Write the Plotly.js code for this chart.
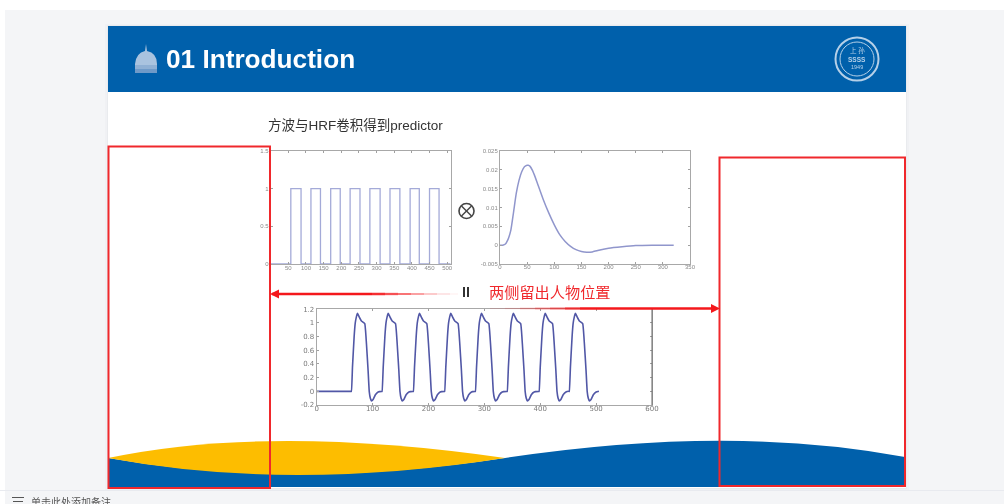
<!DOCTYPE html>
<html><head><meta charset="utf-8">
<script src="https://cdn.plot.ly/plotly-3.0.1.min.js"></script>
<style>html,body{margin:0;padding:0;background:#fff;overflow:hidden}#c{width:1004px;height:504px;filter:blur(0.55px)}</style>
</head><body><div id="c"></div>
<script>
// Square wave stimulus
const squareX = [0,57,57,86,86,114,114,141,141,170,170,197,197,225,225,253,253,281,281,310,310,338,338,366,366,395,395,421,421,450,450,477,477,510];
const squareY = [0,0,1,1,0,0,1,1,0,0,1,1,0,0,1,1,0,0,1,1,0,0,1,1,0,0,1,1,0,0,1,1,0,0];
const squareTickX = [50,100,150,200,250,300,350,400,450,500];
const squareTickY = [0,0.5,1,1.5];
const squareTickYText = ['0','0.5','1','1.5'];
// HRF
const hrfX = [0,5,10,13,16,20,25,30,35,40,45,50,52,55,60,65,70,80,90,100,110,120,130,140,150,160,170,180,200,225,250,280,320];
const hrfY = [0,0,0.0003,0.001,0.002,0.004,0.0088,0.0138,0.0172,0.0195,0.0208,0.0212,0.0212,0.021,0.0198,0.018,0.016,0.012,0.0085,0.0054,0.0028,0.001,-0.0003,-0.0012,-0.0017,-0.0019,-0.0018,-0.0014,-0.0008,-0.0004,-0.0001,0,0];
const hrfTickX = [0,50,100,150,200,250,300,350];
const hrfTickY = [-0.005,0,0.005,0.01,0.015,0.02,0.025];
const hrfTickYText = ['-0.005','0','0.005','0.01','0.015','0.02','0.025'];
// Predictor
const predictorX = [0,20,40,55,60,62,64,67,69,71,73,76,80,86,89,92,94,96,98,101,105,110,116,
 117,119,122,124,126,128,131,135,141,144,147,149,151,153,156,160,165,172,
 173,175,178,180,182,184,187,191,197,200,203,205,207,209,212,216,221,228,
 229,231,234,236,238,240,243,247,253,256,259,261,263,265,268,272,277,283,
 284,286,289,291,293,295,298,302,308,311,314,316,318,320,323,327,332,340,
 341,343,346,348,350,352,355,359,365,368,371,373,375,377,380,384,389,397,
 398,400,403,405,407,409,412,416,422,425,428,430,432,434,437,441,446,451,
 452,454,457,459,461,463,466,470,476,479,482,484,486,488,491,495,500,505];
const predictorY = [0,0,0,0,0,0,0.35,0.8,1,1.09,1.14,1.09,1.03,0.99,0.7,0.3,0,-0.1,-0.14,-0.12,-0.05,-0.01,0,
 0,0.35,0.8,1,1.09,1.14,1.09,1.03,0.99,0.7,0.3,0,-0.1,-0.14,-0.12,-0.05,-0.01,0,
 0,0.35,0.8,1,1.09,1.14,1.09,1.03,0.99,0.7,0.3,0,-0.1,-0.14,-0.12,-0.05,-0.01,0,
 0,0.35,0.8,1,1.09,1.14,1.09,1.03,0.99,0.7,0.3,0,-0.1,-0.14,-0.12,-0.05,-0.01,0,
 0,0.35,0.8,1,1.09,1.14,1.09,1.03,0.99,0.7,0.3,0,-0.1,-0.14,-0.12,-0.05,-0.01,0,
 0,0.35,0.8,1,1.09,1.14,1.09,1.03,0.99,0.7,0.3,0,-0.1,-0.14,-0.12,-0.05,-0.01,0,
 0,0.35,0.8,1,1.09,1.14,1.09,1.03,0.99,0.7,0.3,0,-0.1,-0.14,-0.12,-0.05,-0.01,0,
 0,0.35,0.8,1,1.09,1.14,1.09,1.03,0.99,0.7,0.3,0,-0.1,-0.14,-0.12,-0.05,-0.01,0];
const predictorTickX = [0,100,200,300,400,500,600];
const predictorTickY = [-0.2,0,0.2,0.4,0.6,0.8,1,1.2];
const predictorTickYText = ['-0.2','0','0.2','0.4','0.6','0.8','1','1.2'];
// Texts
const headerTitle = '01 Introduction';
const slideTitle = '方波与HRF卷积得到predictor';
const redNote = '两侧留出人物位置';
const footerNote = '单击此处添加备注';

const W=1004,H=504;
const X=p=>p/W, Y=p=>1-p/H;
const pathCurve=(pts)=>{let out='';pts.forEach(s=>{
  if(s[0]==='M'||s[0]==='L') out+=s[0]+' '+X(s[1])+','+Y(s[2])+' ';
  else if(s[0]==='Q') out+='Q '+X(s[1])+','+Y(s[2])+' '+X(s[3])+','+Y(s[4])+' ';
  else out+='Z';});return out;};
const rect=(x0,y0,x1,y1,fill,extra)=>Object.assign({type:'rect',xref:'paper',yref:'paper',x0:X(x0),x1:X(x1),y0:Y(y1),y1:Y(y0),fillcolor:fill,line:{width:0},layer:'below'},extra||{});
const line=(x0,y0,x1,y1,color,w,op)=>({type:'line',xref:'paper',yref:'paper',x0:X(x0),x1:X(x1),y0:Y(y0),y1:Y(y1),line:{color:color,width:w},opacity:op==null?1:op,layer:'above'});
const path=(d,fill,extra)=>Object.assign({type:'path',xref:'paper',yref:'paper',path:d,fillcolor:fill,line:{width:0},layer:'below'},extra||{});
const circ=(cx,cy,r,fill,lc,lw,layer)=>({type:'circle',xref:'paper',yref:'paper',x0:X(cx-r),x1:X(cx+r),y0:Y(cy+r),y1:Y(cy-r),fillcolor:fill,line:{color:lc,width:lw},layer:layer||'above'});

const RED='#f0282c', BLUE='#0060ab', YEL='#fdbd00', LOGO='#b5d0e8', AR='#f4181c';
// fading arrow shafts: [x0, x1, width, opacity]
const leftShaft=[[272,372,2.6,1],[372,385,2.5,0.9],[385,398,2.3,0.75],[398,411,2,0.6],[411,424,1.8,0.45],[424,437,1.5,0.3],[437,450,1.2,0.18],[450,458,1,0.08]];
const rightShaft=[[490,505,1,0.1],[505,520,1.2,0.2],[520,535,1.5,0.35],[535,550,1.8,0.5],[550,565,2,0.65],[565,580,2.3,0.85],[580,712,2.6,1]];
const shapes=[
 rect(5,10,1004,504,'#f4f5f7'),
 rect(0,490,1004,491,'#e8eaef'),
 rect(105,24,909,490,'#f0f1f4'),
 rect(107,25,907,489,'#e9ebee'),
 rect(108,26,906,488,'#ffffff'),
 rect(108,26,906,92,BLUE),
 path(pathCurve([['M',108,487],['L',108,458],['Q',290,490,505,458],['Q',730,424,905,457],['L',905,487],['Z']]),BLUE),
 path(pathCurve([['M',108,458],['Q',270,424,505,458],['Q',290,492,108,458],['Z']]),YEL),
 // dome
 path(pathCurve([['M',135,73],['L',135,64],['Q',136,53,145,51],['L',146,44],['L',147,51],['Q',157,53,157,64],['L',157,73],['Z']]),'#a9c3df',{layer:'above'}),
 rect(135,65,157,69,'#8fb0d4',{layer:'above'}),
 rect(135,69,157,73,'#6f9ac8',{layer:'above'}),
 // logo
 circ(857,59,21.5,'rgba(0,0,0,0)',LOGO,2),
 circ(857,59,17,'rgba(0,0,0,0)',LOGO,1),
 // predictor frame right edge
 line(652,309,652,405,'#666',1),
 // red boxes
 {type:'rect',xref:'paper',yref:'paper',x0:X(108.5),x1:X(270),y0:Y(488),y1:Y(146.5),line:{color:RED,width:2},fillcolor:'rgba(0,0,0,0)',layer:'above'},
 {type:'rect',xref:'paper',yref:'paper',x0:X(719.5),x1:X(905),y0:Y(486),y1:Y(157.5),line:{color:RED,width:2},fillcolor:'rgba(0,0,0,0)',layer:'above'},
 // arrows
 ...leftShaft.map(s=>line(s[0],294,s[1],294,AR,s[2],s[3])),
 path(pathCurve([['M',270,294],['L',279,289.5],['L',279,298.5],['Z']]),AR,{layer:'above'}),
 ...rightShaft.map(s=>line(s[0],308.5,s[1],308.5,AR,s[2],s[3])),
 path(pathCurve([['M',720,308.5],['L',711,304],['L',711,313],['Z']]),AR,{layer:'above'}),
 // equals rotated
 rect(463,287,465,297,'#333',{layer:'above'}),
 rect(467,287,469,297,'#333',{layer:'above'}),
 // otimes
 circ(466.5,211,7.5,'rgba(0,0,0,0)','#444',1.6),
 line(461.5,206,471.5,216,'#444',1.4),
 line(471.5,206,461.5,216,'#444',1.4),
 // footer menu icon
 rect(12,497,24,498,'#555'),
 rect(13,501,23,502,'#555')
];
const FONT='Liberation Sans, Noto Sans CJK SC, sans-serif';
const ann=(x,y,text,size,color,extra)=>Object.assign({xref:'paper',yref:'paper',x:X(x),y:Y(y),text:text,showarrow:false,xanchor:'left',yanchor:'middle',font:{size:size,color:color,family:FONT}},extra||{});
const annotations=[
 ann(164,59,'<b>'+headerTitle+'</b>',26.2,'#ffffff'),
 ann(266,125,slideTitle,13.5,'#333'),
 ann(487,292.5,redNote,15.2,'#f0282c'),
 ann(29,502,footerNote,10,'#555'),
 ann(857,50,'上 孙',6.5,LOGO,{xanchor:'center'}),
 ann(857,59,'<b>SSSS</b>',6.5,LOGO,{xanchor:'center'}),
 ann(857,67,'1949',5.5,LOGO,{xanchor:'center'})
];
const axisBase={showgrid:false,zeroline:false,showline:true,linecolor:'#a8a8a8',linewidth:1,mirror:'ticks',ticks:'inside',ticklen:2,tickcolor:'#a0a0a0',tickfont:{size:6,color:'#8a8a8a',family:'Liberation Sans, sans-serif'},fixedrange:true};
const tf3={size:7,color:'#7a7a7a',family:'DejaVu Sans, sans-serif'};
const dx=(a,b)=>[a/W,b/W], dy=(top,bot)=>[1-bot/H,1-top/H];
const layout={
 width:W,height:H,margin:{l:0,r:0,t:0,b:0},paper_bgcolor:'rgba(0,0,0,0)',plot_bgcolor:'rgba(0,0,0,0)',showlegend:false,
 xaxis:Object.assign({},axisBase,{domain:dx(270.7,450.7),range:[0,510],tickvals:squareTickX,anchor:'y',ticklabelstandoff:-2}),
 yaxis:Object.assign({},axisBase,{domain:dy(151,264),range:[0,1.5],tickvals:squareTickY,ticktext:squareTickYText,anchor:'x'}),
 xaxis2:Object.assign({},axisBase,{domain:dx(500,690),range:[0,350],tickvals:hrfTickX,anchor:'y2',ticklabelstandoff:-3}),
 yaxis2:Object.assign({},axisBase,{domain:dy(151,264),range:[-0.005,0.025],tickvals:hrfTickY,ticktext:hrfTickYText,anchor:'x2'}),
 xaxis3:Object.assign({},axisBase,{domain:dx(316.7,652),range:[0,600],tickvals:predictorTickX,anchor:'y3',tickfont:tf3,ticklabelstandoff:-3}),
 yaxis3:Object.assign({},axisBase,{domain:dy(309.3,405),range:[-0.2,1.2],tickvals:predictorTickY,ticktext:predictorTickYText,anchor:'x3',tickfont:tf3}),
 shapes:shapes,annotations:annotations
};
const traces=[
 {x:squareX,y:squareY,xaxis:'x',yaxis:'y',type:'scatter',mode:'lines',line:{color:'#a4aad8',width:1.3}},
 {x:hrfX,y:hrfY,xaxis:'x2',yaxis:'y2',type:'scatter',mode:'lines',line:{color:'#9096cc',width:1.5,shape:'spline',smoothing:0.6}},
 {x:predictorX,y:predictorY,xaxis:'x3',yaxis:'y3',type:'scatter',mode:'lines',line:{color:'#5157a6',width:1.6,shape:'spline',smoothing:0.3}}
];
Plotly.newPlot('c',traces,layout,{displayModeBar:false,staticPlot:true});
</script></body></html>
